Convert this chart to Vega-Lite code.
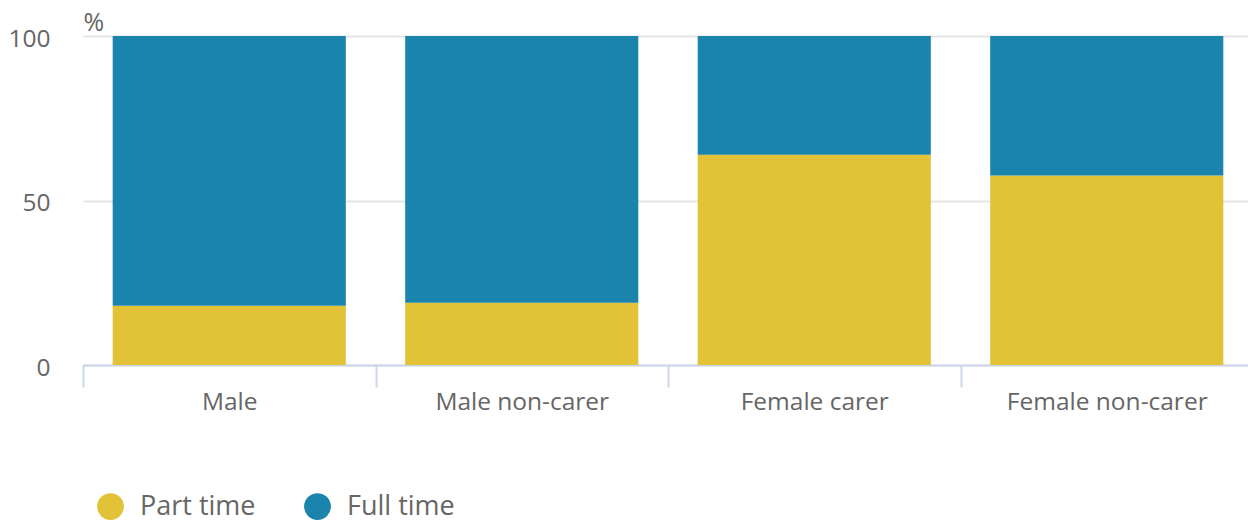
{
  "$schema": "https://vega.github.io/schema/vega-lite/v6.json",
  "width": 1165,
  "height": 329,
  "autosize": {"type": "none"},
  "padding": {"left": 83, "top": 36, "right": 0, "bottom": 157},
  "config": {
    "font": "Open Sans",
    "view": {"stroke": null},
    "axis": {"labelFont": "Open Sans", "titleFont": "Open Sans"}
  },
  "data": {
    "values": [
      {"group": "Male", "type": "Part time", "value": 18.0},
      {"group": "Male", "type": "Full time", "value": 82.0},
      {"group": "Male non-carer", "type": "Part time", "value": 18.9},
      {"group": "Male non-carer", "type": "Full time", "value": 81.1},
      {"group": "Female carer", "type": "Part time", "value": 63.9},
      {"group": "Female carer", "type": "Full time", "value": 36.1},
      {"group": "Female non-carer", "type": "Part time", "value": 57.6},
      {"group": "Female non-carer", "type": "Full time", "value": 42.4}
    ]
  },
  "mark": {"type": "bar", "width": {"band": 0.797}},
  "encoding": {
    "x": {
      "field": "group",
      "type": "nominal",
      "sort": ["Male", "Male non-carer", "Female carer", "Female non-carer"],
      "scale": {"paddingInner": 0, "paddingOuter": 0, "range": [0, 1170]},
      "axis": {
        "title": null,
        "labelAngle": 0,
        "labelFontSize": 24.5,
        "labelLimit": 0,
        "labelColor": "#666666",
        "labelBaseline": "alphabetic",
        "labelPadding": 22,
        "tickBand": "extent",
        "tickSize": 22,
        "tickWidth": 2,
        "tickColor": "#ccd6eb",
        "domainColor": "#ccd6eb",
        "domainWidth": 2,
        "grid": false
      }
    },
    "y": {
      "field": "value",
      "type": "quantitative",
      "stack": "zero",
      "scale": {"domain": [0, 100]},
      "axis": {
        "title": "%",
        "titleAngle": 0,
        "titleAlign": "left",
        "titleBaseline": "alphabetic",
        "titleX": 0,
        "titleY": -6,
        "titleFontSize": 25,
        "titleFontWeight": "normal",
        "titleColor": "#666666",
        "values": [0, 50, 100],
        "labelFontSize": 24.5,
        "labelColor": "#666666",
        "labelPadding": 33,
        "labelOffset": 3,
        "ticks": false,
        "domain": false,
        "grid": true,
        "gridColor": "#e6e6e6",
        "gridWidth": 2
      }
    },
    "color": {
      "field": "type",
      "type": "nominal",
      "scale": {"domain": ["Part time", "Full time"], "range": ["#E2C237", "#1B84AC"]},
      "legend": {
        "title": null,
        "orient": "none",
        "direction": "horizontal",
        "legendX": 14,
        "legendY": 457,
        "symbolType": "circle",
        "symbolSize": 720,
        "symbolStrokeWidth": 0,
        "symbolOpacity": 1,
        "labelFontSize": 27,
        "labelColor": "#666666",
        "labelOffset": 16,
        "columnPadding": 48,
        "padding": 0
      }
    },
    "order": {"field": "type", "sort": "descending"}
  }
}
